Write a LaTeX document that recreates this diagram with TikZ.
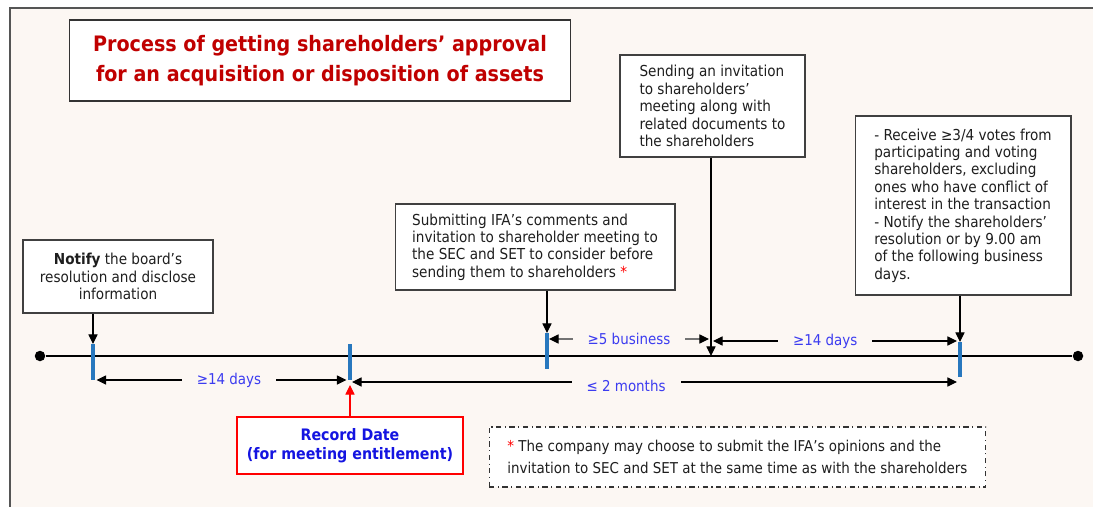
\documentclass[tikz,border=0pt]{standalone}
\usepackage{fontspec}
\setmainfont{DejaVu Sans Condensed}
\usetikzlibrary{arrows.meta}

\definecolor{paper}{RGB}{252,247,243}
\definecolor{frameline}{RGB}{85,85,85}
\definecolor{headred}{RGB}{192,0,0}
\definecolor{daysblue}{RGB}{60,60,240}
\definecolor{dateblue}{RGB}{20,20,225}
\definecolor{tickblue}{RGB}{40,120,190}
\definecolor{textgrey}{RGB}{30,30,30}

\newcommand{\boxfont}{\fontsize{8.6}{9.9}\selectfont}
\newcommand{\redstar}{\textcolor{red}{*}}

\begin{document}
\begin{tikzpicture}[x = .02cm, y = -.02cm,
	box/.style = {draw = black!75, fill = white, semithick, text = textgrey, font = \boxfont, inner sep = 0pt},
	lbox/.style = {box, align = left},
	days/.style = {fill = paper, text = daysblue, font = \fontsize{8.5}{10}\selectfont, inner xsep = .3cm, inner ysep = 1pt},
	tip/.style = {-{Triangle[length = 5.5pt, width = 5.2pt]}},
	span/.style = {{Triangle[length = 5.5pt, width = 5.2pt]}-{Triangle[length = 5.5pt, width = 5.2pt]}},
	tick/.style = {draw = tickblue, line width = 1.8pt}]
		\useasboundingbox (0,0) rectangle (1093,507);
		\fill [paper] (10,8) rectangle (1093,507);
		\draw [frameline, line width = 1.2pt] (1093,8) -- (10,8) -- (10,507);
		
		\node (title) at (320,60.5) [box, draw = black!80, align = center, minimum width = 10.04cm, minimum height = 1.62cm, text = headred, font = \fontsize{12.1}{17}\selectfont\bfseries]
			{Process of getting shareholders’ approval\\for an acquisition or disposition of assets};
		
		% time line
		\node (start) at (40,356) [circle, fill, inner sep = 0pt, minimum size = .21cm] {};
		\node (finish) at (1078,356) [circle, fill, inner sep = 0pt, minimum size = .21cm] {};
		\draw [semithick] (start) -- (finish);
		
		\coordinate (notifyTop) at (93,344);  \coordinate (notifyBot) at (93,380);
		\coordinate (recordTop) at (350,344); \coordinate (recordBot) at (350,380);
		\coordinate (ifaTop) at (547,333);    \coordinate (ifaBot) at (547,369);
		\coordinate (sendPt) at (711,356);
		\coordinate (voteTop) at (960,342);   \coordinate (voteBot) at (960,377);
		\draw [tick] (notifyTop) -- (notifyBot);
		\draw [tick] (recordTop) -- (recordBot);
		\draw [tick] (ifaTop) -- (ifaBot);
		\draw [tick] (voteTop) -- (voteBot);
		
		% steps
		\node (notify) at (118,276.5) [box, align = center, minimum width = 3.8cm, minimum height = 1.46cm]
			{\textbf{Notify} the board’s\\resolution and disclose\\information};
		\node (ifa) at (535,247) [lbox, minimum width = 5.6cm, minimum height = 1.72cm]
			{Submitting IFA’s comments and\\invitation to shareholder meeting to\\the SEC and SET to consider before\\sending them to shareholders \redstar};
		\node (send) at (712.5,106) [lbox, minimum width = 3.7cm, minimum height = 2.04cm]
			{Sending an invitation\\to shareholders’\\meeting along with\\related documents to\\the shareholders};
		\node (vote) at (963,205.5) [lbox, minimum width = 4.32cm, minimum height = 3.58cm]
			{- Receive ≥3/4 votes from\\participating and voting\\shareholders, excluding\\ones who have conflict of\\interest in the transaction\\- Notify the shareholders’\\resolution or by 9.00 am\\of the following business\\days.};
		\node (record) at (350,445.5) [box, draw = red, align = center, minimum width = 4.52cm, minimum height = 1.14cm, text = dateblue, font = \fontsize{9}{11}\selectfont\bfseries]
			{Record Date\\(for meeting entitlement)};
		\node (note) at (737.5,457) [lbox, dash dot, draw = black!80, minimum width = 9.94cm, minimum height = 1.2cm, font = \fontsize{8.5}{12.3}\selectfont]
			{\redstar\ The company may choose to submit the IFA’s opinions and the\\invitation to SEC and SET at the same time as with the shareholders};
		
		\draw [semithick, tip] (notify.south -| notifyTop) -- (notifyTop);
		\draw [semithick, tip] (ifa.south -| ifaTop) -- (ifaTop);
		\draw [semithick, tip] (send.south -| sendPt) -- (sendPt);
		\draw [semithick, tip] (vote.south -| voteTop) -- (voteTop);
		\draw [semithick, red, -{Triangle[length = 5.5pt, width = 5.2pt]}] (record.north) -- (350,385);
		
		% spans between the ticks
		\coordinate (busL) at (549,339);  \coordinate (busR) at (709,339);
		\coordinate (daysL) at (713,341); \coordinate (daysR) at (957,341);
		\coordinate (monL) at (352,382);  \coordinate (monR) at (957,382);
		\draw [semithick, span] ([xshift = 2]notifyBot) -- node [days, pos = .53] {≥14 days} ([xshift = -2]recordBot);
		\draw [semithick, span] (monL) -- node [days, pos = .453, yshift = -2] {≤ 2 months} (monR);
		\draw [semithick, black!55, {Triangle[length = 5.5pt, width = 5.2pt, black]}-{Triangle[length = 5.5pt, width = 5.2pt, black]}] (busL) -- node [days] {≥5 business} (busR);
		\draw [semithick, span] (daysL) -- node [days, pos = .46] {≥14 days} (daysR);
\end{tikzpicture}
\end{document}
